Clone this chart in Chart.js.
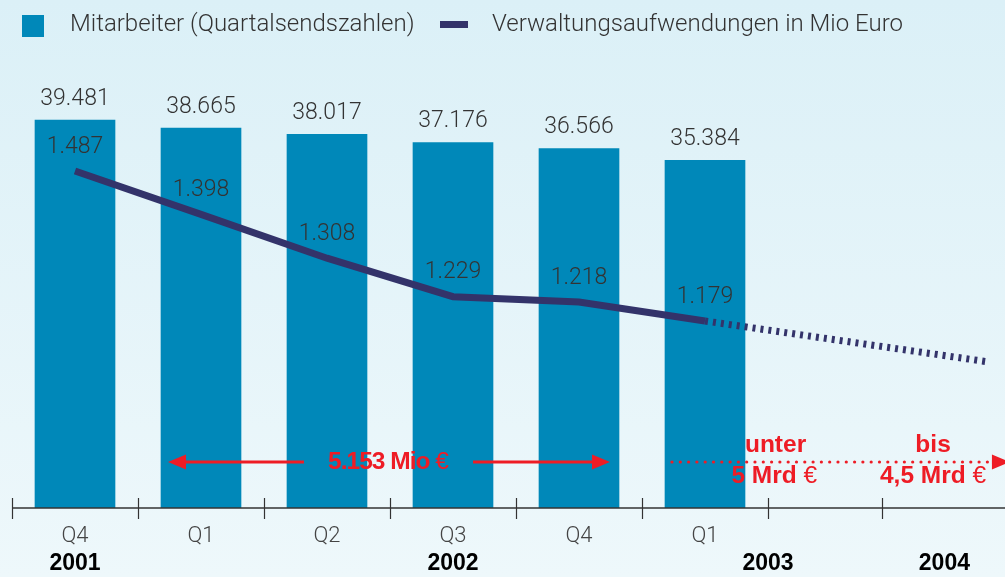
<!DOCTYPE html>
<html>
<head>
<meta charset="utf-8">
<script src="https://cdn.jsdelivr.net/npm/chart.js@4.4.0/dist/chart.umd.min.js"></script>
<style>
  html, body { margin: 0; padding: 0; }
  body { width: 1005px; height: 577px; overflow: hidden; background: linear-gradient(#dbf0f7, #eef8fb); }
</style>
</head>
<body>
<canvas id="chart" width="1005" height="577"></canvas>
<script>
// data
const quarters = ['Q4', 'Q1', 'Q2', 'Q3', 'Q4', 'Q1'];
const years = ['2001', '2002', '2003', '2004'];
const yearPos = [0.5, 3.5, 6.0, 7.4];
const employees = [39481, 38665, 38017, 37176, 36566, 35384];
const adminCosts = [1487, 1398, 1308, 1229, 1218, 1179];
const projectionX = [5.5, 7.75];
const projection = [1179, 1095];
const slotTicks = [0, 1, 2, 3, 4, 5, 6, 6.905];

const BLUE = '#0088b9';
const NAVY = '#33336a';
const RED = '#ee1c25';

const fmt = v => v.toLocaleString('de-DE');

// draws axis, labels, legend and the red notes
const decorations = {
  id: 'decorations',
  afterDatasetsDraw(chart) {
    const c = chart.ctx;
    const x = chart.scales.x;
    const area = chart.chartArea;
    const base = area.bottom;
    c.save();

    // value labels
    c.fillStyle = '#333';
    c.font = '300 23px Roboto';
    c.textAlign = 'center';
    c.textBaseline = 'middle';
    chart.getDatasetMeta(0).data.forEach((bar, i) => {
      c.fillText(fmt(employees[i]), bar.x, bar.y - 21);
    });
    chart.getDatasetMeta(1).data.forEach((pt, i) => {
      c.fillText(fmt(adminCosts[i]), pt.x, pt.y - 24);
    });

    // axis line and ticks
    c.strokeStyle = '#333';
    c.lineWidth = 1.5;
    c.beginPath();
    c.moveTo(area.left, base);
    c.lineTo(area.right, base);
    c.stroke();
    c.lineWidth = 1.2;
    slotTicks.forEach(t => {
      const px = Math.round(x.getPixelForValue(t)) + 0.5;
      c.beginPath();
      c.moveTo(px, base - 10);
      c.lineTo(px, base + 11);
      c.stroke();
    });

    // category labels
    c.fillStyle = '#444';
    c.font = '300 22px Roboto';
    quarters.forEach((q, i) => c.fillText(q, x.getPixelForValue(i + 0.5), base + 28));
    c.fillStyle = '#000';
    c.font = 'bold 23px "Liberation Sans"';
    years.forEach((y, i) => c.fillText(y, x.getPixelForValue(yearPos[i]), base + 56));

    // legend
    c.fillStyle = BLUE;
    c.fillRect(22, 15, 22, 22);
    c.fillStyle = '#333';
    c.font = '300 24px Roboto';
    c.textAlign = 'left';
    c.fillText(chart.data.datasets[0].label, 70, 25);
    c.fillStyle = NAVY;
    c.fillRect(440, 21, 28, 7);
    c.fillStyle = '#333';
    c.fillText(chart.data.datasets[1].label, 492, 25);

    // red notes
    const ay = base - 46;
    c.strokeStyle = RED;
    c.fillStyle = RED;
    const arrowHead = (tip, dir) => {
      c.beginPath();
      c.moveTo(tip, ay);
      c.lineTo(tip - dir * 18, ay - 7.5);
      c.lineTo(tip - dir * 18, ay + 7.5);
      c.closePath();
      c.fill();
    };
    c.lineWidth = 3;
    const l1 = x.getPixelForValue(2.317), t1 = x.getPixelForValue(1.238);
    c.beginPath(); c.moveTo(l1, ay); c.lineTo(t1 + 10, ay); c.stroke();
    arrowHead(t1, -1);
    const l2 = x.getPixelForValue(3.659), t2 = x.getPixelForValue(4.746);
    c.beginPath(); c.moveTo(l2, ay); c.lineTo(t2 - 10, ay); c.stroke();
    arrowHead(t2, 1);
    // dotted projection arrow
    const d0 = x.getPixelForValue(5.238), d1 = x.getPixelForValue(7.92);
    for (let px = d0; px < d1 - 18; px += 8.3) {
      c.beginPath(); c.arc(px, ay, 1.6, 0, Math.PI * 2); c.fill();
    }
    arrowHead(d1, 1);

    const note = (parts, cx, cy) => {
      c.textAlign = 'left';
      const widths = parts.map(p => { c.font = p[1]; return c.measureText(p[0]).width; });
      let px = cx - widths.reduce((a, b) => a + b, 0) / 2;
      parts.forEach((p, i) => { c.font = p[1]; c.fillText(p[0], px, cy); px += widths[i]; });
    };
    const B = 'bold 24.5px "Liberation Sans"';
    const N = '300 24.5px "Liberation Sans"';
    c.letterSpacing = '-1px';
    note([['5.153 Mio ', B], ['€', N]], x.getPixelForValue(2.984), ay);
    c.letterSpacing = '0px';
    note([['unter', B]], x.getPixelForValue(6.06), base - 63);
    note([['5 Mrd ', B], ['€', N]], x.getPixelForValue(6.05), base - 32);
    note([['bis', B]], x.getPixelForValue(7.31), base - 63);
    note([['4,5 Mrd ', B], ['€', N]], x.getPixelForValue(7.31), base - 32);

    c.restore();
  }
};

new Chart(document.getElementById('chart'), {
  type: 'bar',
  data: {
    datasets: [
      {
        type: 'bar',
        label: 'Mitarbeiter (Quartalsendszahlen)',
        data: employees.map((v, i) => ({ x: i + 0.5, y: v })),
        backgroundColor: BLUE,
        barThickness: 80,
        yAxisID: 'y',
        order: 2
      },
      {
        type: 'line',
        label: 'Verwaltungsaufwendungen in Mio Euro',
        data: adminCosts.map((v, i) => ({ x: i + 0.5, y: v })),
        borderColor: NAVY,
        borderWidth: 7,
        pointRadius: 0,
        tension: 0,
        yAxisID: 'y1',
        order: 1
      },
      {
        type: 'line',
        label: 'Prognose',
        data: projection.map((v, i) => ({ x: projectionX[i], y: v })),
        borderColor: NAVY,
        borderWidth: 7,
        borderDash: [3, 5],
        pointRadius: 0,
        yAxisID: 'y1',
        order: 1
      }
    ]
  },
  options: {
    responsive: false,
    animation: false,
    layout: { padding: { left: 12, right: 0, top: 60, bottom: 69 } },
    plugins: { legend: { display: false }, tooltip: { enabled: false } },
    scales: {
      x: { type: 'linear', min: 0, max: 7.881, offset: false, display: false },
      y: { min: 0, max: 45590, display: false },
      y1: { min: 795, max: 1715, display: false }
    }
  },
  plugins: [decorations]
});
</script>
</body>
</html>
